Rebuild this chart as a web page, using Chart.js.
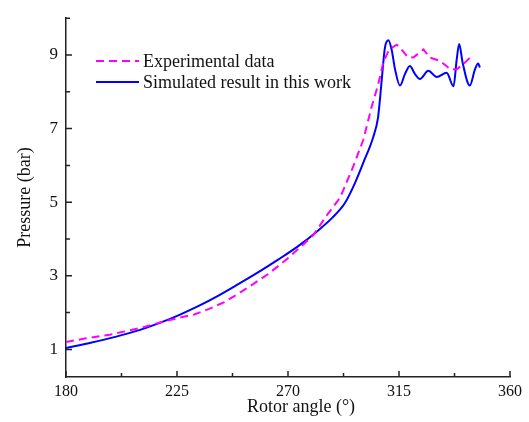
<!DOCTYPE html>
<html><head><meta charset="utf-8">
<script src="https://cdn.jsdelivr.net/npm/chart.js@4/dist/chart.umd.min.js"></script>
<style>html,body{margin:0;padding:0;background:#fff}#wrap{width:529px;height:422px;position:relative}</style>
</head><body><div id="wrap"><canvas id="c"></canvas></div>
<script>
const expAngle = [180,188,197.8,210,220.8,226,232,238,244,250,256,262,269.5,275,280.2,285.7,291.1,296.5,300.5,303.9,306.6,308.6,311,314.1,316,318.5,320.8,324.9,327.5,331.6,335.7,338.4,341,343.8];
const expPressure = [1.20,1.30,1.40,1.58,1.78,1.86,1.95,2.10,2.28,2.52,2.78,3.05,3.45,3.78,4.10,4.64,5.12,5.98,6.69,7.59,8.21,8.79,9.15,9.28,9.15,8.95,8.93,9.15,8.93,8.84,8.62,8.61,8.75,8.93];
const simAngle = [180,190,200,210,218,226,234,242,250,258,266,274,282,288,293,297,300.5,304.6,306.5,307.3,308.3,309.3,310.7,312,313.4,315.4,317.4,319.4,321.5,323.5,326.9,330.3,334.3,337.1,338.4,339.4,340.8,343.7,345.8,347.1,347.8];
const simPressure = [1.04,1.18,1.34,1.53,1.72,1.94,2.19,2.47,2.78,3.10,3.44,3.80,4.22,4.58,4.97,5.5,6.07,6.78,7.3,7.81,8.55,9.2,9.4,9.15,8.61,8.17,8.48,8.70,8.48,8.35,8.57,8.40,8.52,8.15,8.88,9.30,8.79,8.17,8.61,8.77,8.66];
const xTicks = [180,225,270,315,360];
const xMinorTicks = [202.5,247.5,292.5,337.5];
const yTicks = [1,3,5,7,9];
const yMinorTicks = [2,4,6,8,10];
const seriesNames = ['Experimental data','Simulated result in this work'];
const xTitle = 'Rotor angle (°)';
const yTitle = 'Pressure (bar)';

const FONT = '"Liberation Serif", "Times New Roman", serif';
const MAGENTA = '#ff00ff', BLUE = '#0000ff', AXIS = '#222';

const toPts = (xs, ys) => xs.map((x, i) => ({x, y: ys[i]}));

const decor = {
  id: 'decor',
  afterDraw(chart) {
    const ctx = chart.ctx, xs = chart.scales.x, ys = chart.scales.y, a = chart.chartArea;
    ctx.save();
    ctx.strokeStyle = AXIS; ctx.lineWidth = 1.5;
    ctx.beginPath();
    xTicks.forEach(v => { const p = xs.getPixelForValue(v); ctx.moveTo(p, a.bottom); ctx.lineTo(p, a.bottom - 6); });
    xMinorTicks.forEach(v => { const p = xs.getPixelForValue(v); ctx.moveTo(p, a.bottom); ctx.lineTo(p, a.bottom - 4); });
    yTicks.forEach(v => { const p = ys.getPixelForValue(v); ctx.moveTo(a.left, p); ctx.lineTo(a.left + 6, p); });
    yMinorTicks.forEach(v => { const p = ys.getPixelForValue(v); ctx.moveTo(a.left, p); ctx.lineTo(a.left + 4, p); });
    ctx.stroke();
    // x title
    ctx.fillStyle = '#111';
    ctx.font = '18px ' + FONT;
    ctx.textAlign = 'center'; ctx.textBaseline = 'middle';
    ctx.fillText(xTitle, 301, 407);
    // legend
    const lx0 = 96, lx1 = 139, tx = 143, ly = [61, 82];
    const ds = chart.data.datasets;
    ds.forEach((d, i) => {
      ctx.strokeStyle = d.borderColor; ctx.lineWidth = 2;
      ctx.setLineDash(d.borderDash || []);
      ctx.beginPath(); ctx.moveTo(lx0, ly[i]); ctx.lineTo(lx1, ly[i]); ctx.stroke();
      ctx.setLineDash([]);
      ctx.textAlign = 'left';
      ctx.fillText(d.label, tx, ly[i] + 1);
    });
    ctx.restore();
  }
};

new Chart(document.getElementById('c'), {
  type: 'line',
  data: {
    datasets: [
      { label: seriesNames[0], data: toPts(expAngle, expPressure), borderColor: MAGENTA, borderWidth: 2, borderDash: [8,5], pointRadius: 0, tension: 0, fill: false },
      { label: seriesNames[1], data: toPts(simAngle, simPressure), borderColor: BLUE, borderWidth: 2, pointRadius: 0, cubicInterpolationMode: 'monotone', fill: false }
    ]
  },
  options: {
    responsive: true, maintainAspectRatio: false, animation: false, devicePixelRatio: 1,
    layout: { padding: { left: 8, top: 13, right: 19, bottom: 0 } },
    plugins: { legend: { display: false }, tooltip: { enabled: false } },
    scales: {
      x: {
        type: 'linear', min: 180, max: 360,
        afterBuildTicks: s => { s.ticks = xTicks.map(v => ({value: v})); },
        afterFit: s => { s.height = 45; },
        grid: { display: false, drawTicks: false },
        border: { display: true, color: AXIS, width: 1.5 },
        ticks: { font: { family: FONT, size: 16 }, color: '#111', padding: 5, maxRotation: 0 }
      },
      y: {
        type: 'linear', min: 0.25, max: 10,
        afterBuildTicks: s => { s.ticks = yTicks.map(v => ({value: v})); },
        afterFit: s => { s.width = 58; },
        grid: { display: false, drawTicks: false },
        border: { display: true, color: AXIS, width: 1.5 },
        ticks: { font: { family: FONT, size: 17 }, color: '#111', padding: 8 },
        title: { display: true, text: yTitle, font: { family: FONT, size: 18 }, color: '#111', padding: { top: 6, bottom: 0 } }
      }
    }
  },
  plugins: [decor]
});
</script></body></html>
